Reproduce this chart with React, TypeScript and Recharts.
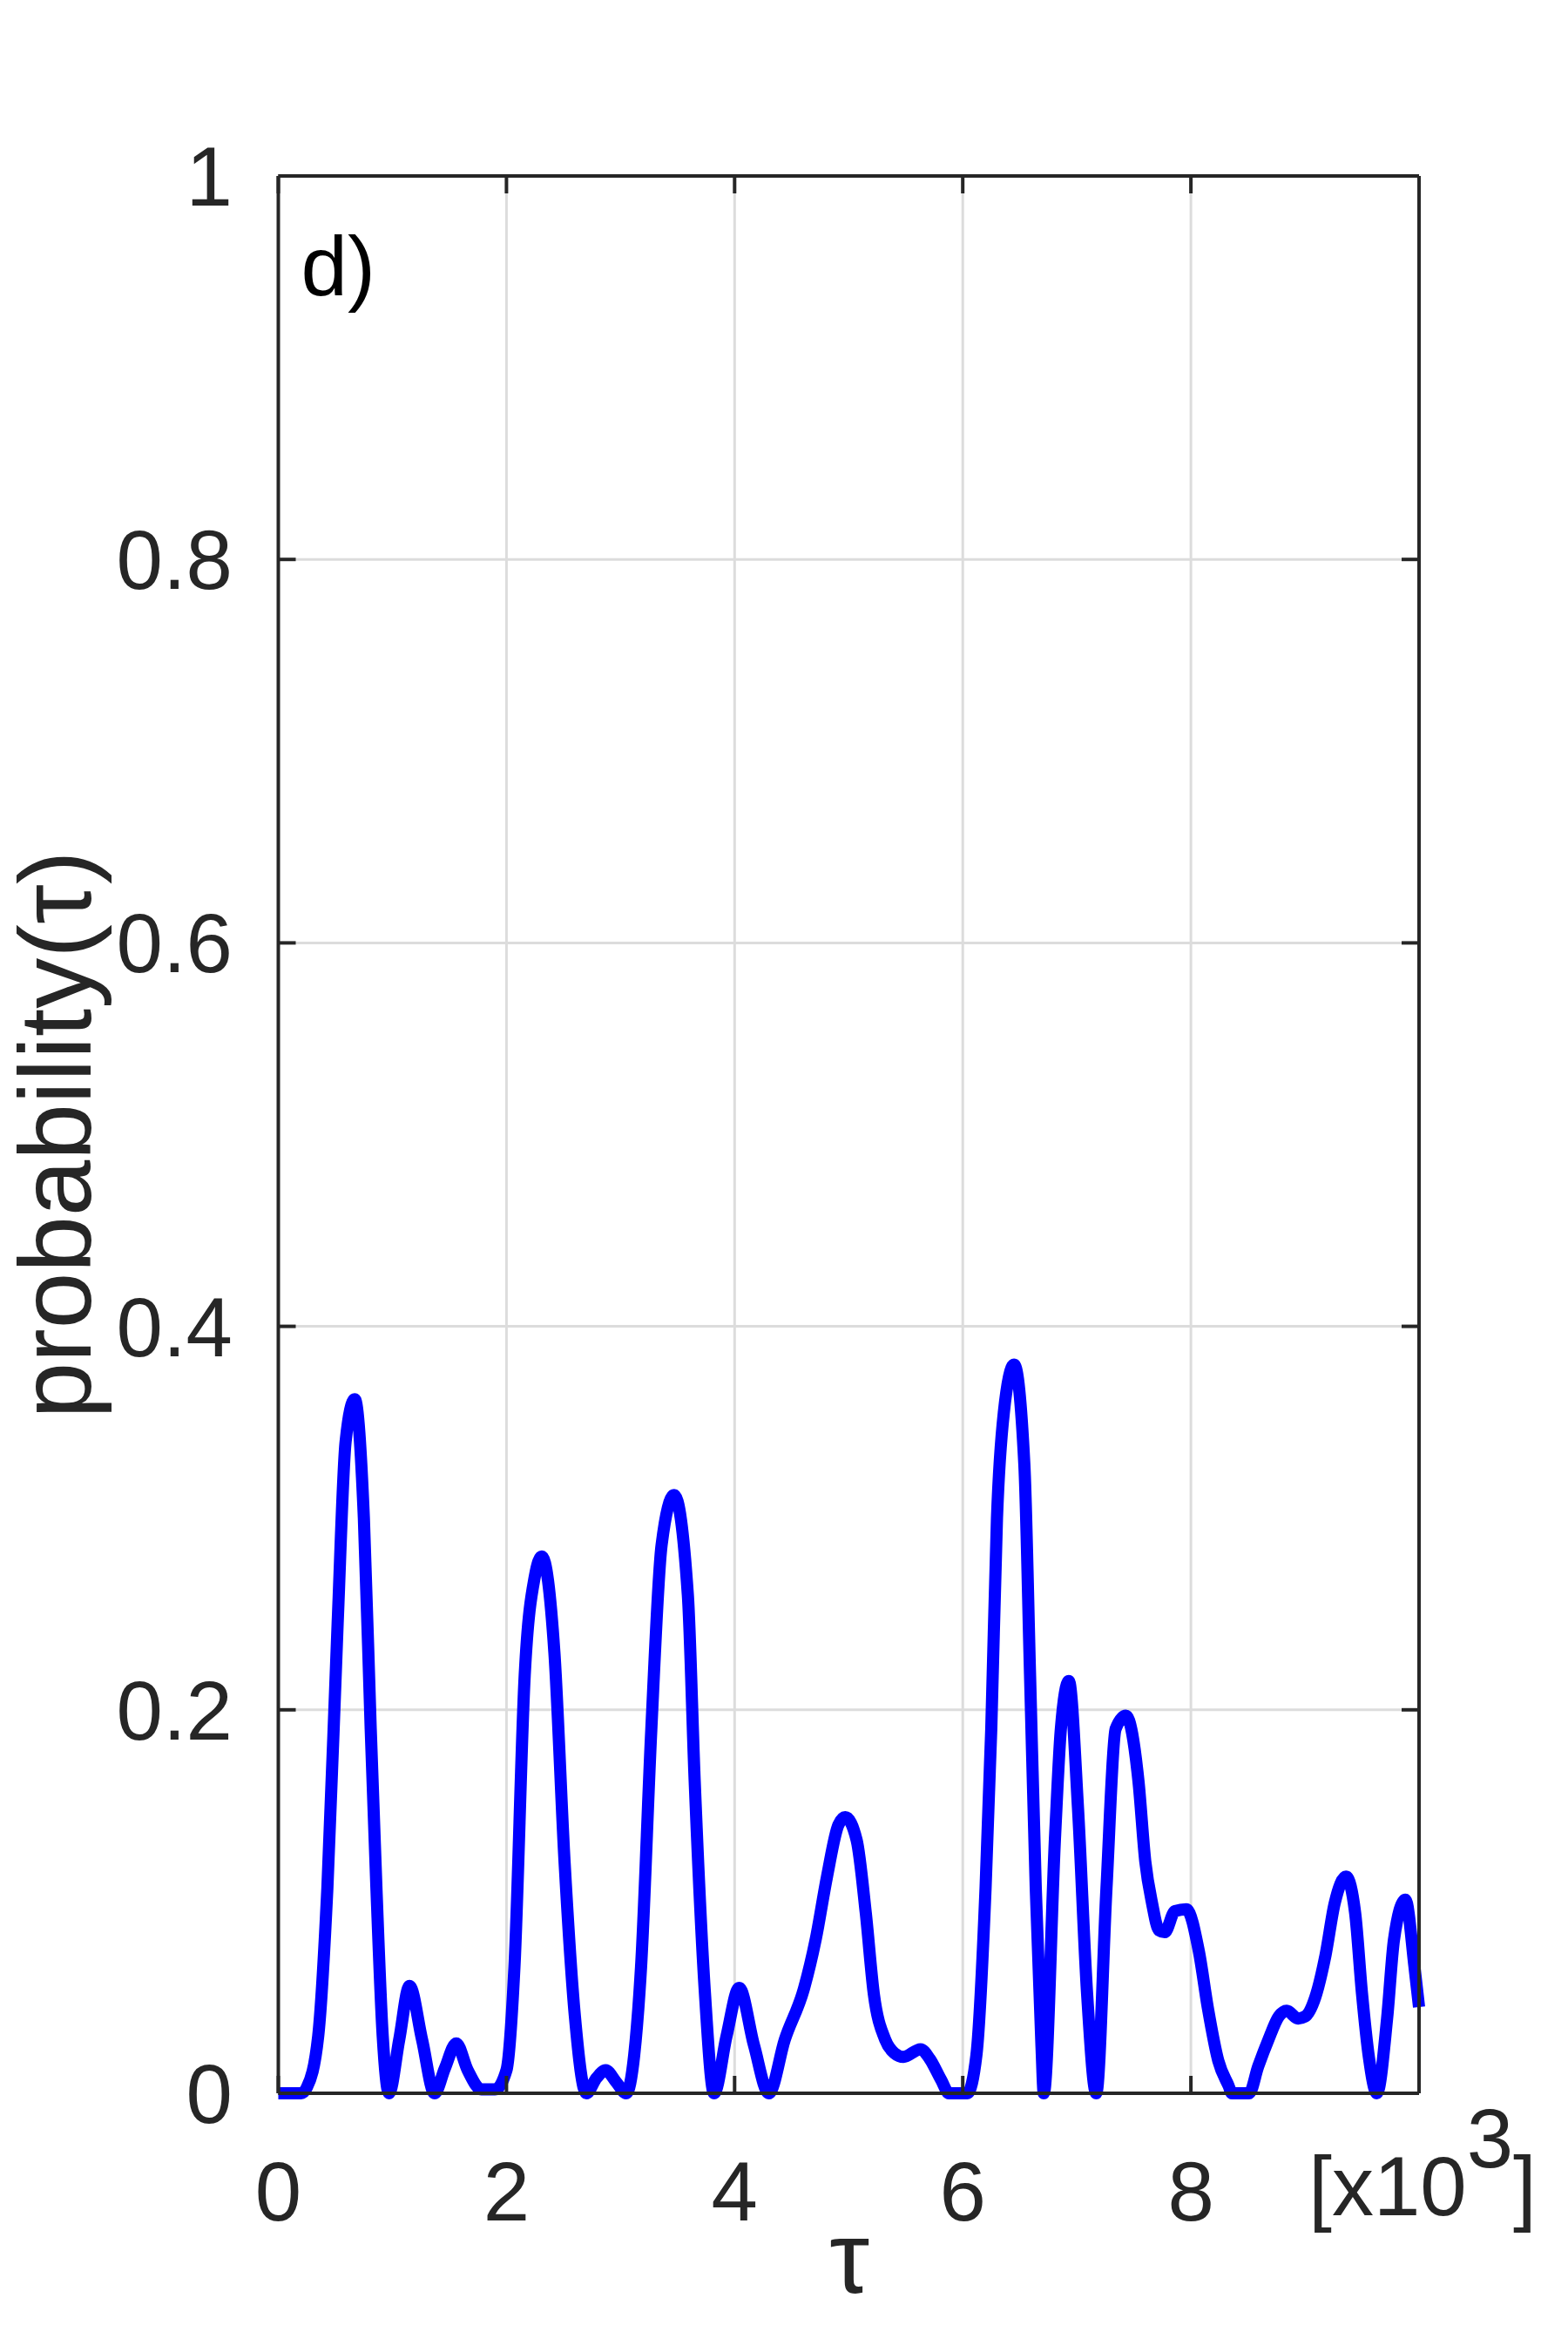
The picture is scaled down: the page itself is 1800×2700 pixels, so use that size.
import { LineChart, Line, XAxis, YAxis, CartesianGrid } from 'recharts';

// tau in units of 10^3, probability
const tau = [
  0, 0.2, 0.25, 0.35, 0.43, 0.52, 0.59, 0.67, 0.75, 0.81, 0.86, 0.915, 0.97,
  1.06, 1.15, 1.26, 1.37, 1.46, 1.56, 1.66, 1.78, 1.9,
  2.0, 2.07, 2.16, 2.25, 2.31, 2.42, 2.51, 2.6, 2.7, 2.79, 2.87, 2.96,
  3.05, 3.12, 3.18, 3.27, 3.36, 3.47, 3.59, 3.65, 3.74, 3.82, 3.93,
  4.04, 4.17, 4.3, 4.44, 4.61, 4.71, 4.81, 4.91, 4.97,
  5.07, 5.15, 5.22, 5.32, 5.4, 5.48, 5.63, 5.71, 5.81, 5.88,
  6.04, 6.12, 6.2, 6.25, 6.3, 6.36, 6.45, 6.54, 6.59, 6.64, 6.69, 6.71, 6.81, 6.86, 6.93,
  7.01, 7.09, 7.17, 7.26, 7.34, 7.43, 7.54, 7.6, 7.66, 7.72, 7.77, 7.86, 7.96,
  8.07, 8.15, 8.24, 8.33, 8.36, 8.51, 8.59, 8.68, 8.77, 8.84, 8.94,
  9.0, 9.09, 9.18, 9.26, 9.36, 9.44, 9.5, 9.56, 9.63, 9.72, 9.78, 9.88, 9.96, 10.0,
];
const prob = [
  0, 0, 0.003, 0.03, 0.107, 0.245, 0.34, 0.362, 0.3, 0.19, 0.107, 0.03, 0,
  0.028, 0.056, 0.028, 0, 0.013, 0.026, 0.012, 0.002, 0.002,
  0.012, 0.066, 0.218, 0.27, 0.28, 0.23, 0.12, 0.04, 0, 0.008, 0.012, 0.006,
  0, 0.02, 0.066, 0.19, 0.286, 0.312, 0.26, 0.163, 0.052, 0, 0.03,
  0.055, 0.025, 0, 0.028, 0.055, 0.08, 0.113, 0.14, 0.144,
  0.132, 0.094, 0.052, 0.028, 0.021, 0.019, 0.023, 0.018, 0.007, 0,
  0, 0.02, 0.107, 0.19, 0.3, 0.355, 0.38, 0.328, 0.218, 0.107, 0.025, 0, 0.135, 0.19, 0.215,
  0.149, 0.052, 0, 0.107, 0.19, 0.197, 0.163, 0.121, 0.099, 0.085, 0.084, 0.095, 0.096,
  0.074, 0.044, 0.017, 0.004, 0, 0, 0.014, 0.028, 0.04, 0.043, 0.039,
  0.04, 0.05, 0.072, 0.099, 0.113, 0.094, 0.052, 0.019, 0, 0.039, 0.08, 0.101, 0.066, 0.045,
];

const xTicks = [0, 2, 4, 6, 8, 10];
const yTicks = [0, 0.2, 0.4, 0.6, 0.8, 1];

const data = tau.map((t, i) => ({ tau: t, p: prob[i] }));

const INK = '#262626';
const FONT = '"Liberation Sans", Arial, Helvetica, sans-serif';
const TICK_FONT = 96;
const TITLE_FONT = 116;
const Y_GAP = 52.5; // label to axis
const TICK_LEN = 20;

// the last tick carries the x10^3 exponent instead of "10"
const XTick = ({ x, y, payload }: any) => {
  if (payload.value === 10) {
    return (
      <text x={x + 4} y={y + 62} textAnchor="middle" fill={INK} fontSize={TICK_FONT} fontFamily={FONT}>
        [x10<tspan dy={-55}>3</tspan>
        <tspan dy={55}>]</tspan>
      </text>
    );
  }
  return (
    <text x={x} y={y + 68} textAnchor="middle" fill={INK} fontSize={TICK_FONT} fontFamily={FONT}>
      {payload.value}
    </text>
  );
};

// y label plus the inward tick mark on the left edge
const YTick = ({ x, y, payload }: any) => (
  <g>
    <line x1={x + Y_GAP} x2={x + Y_GAP + TICK_LEN} y1={y} y2={y} stroke={INK} strokeWidth={4} />
    <text x={x} y={y} dy="0.355em" textAnchor="end" fill={INK} fontSize={TICK_FONT} fontFamily={FONT}>
      {payload.value}
    </text>
  </g>
);

// tick lines only, no label
const NoLabel = () => <g />;

const YTitle = ({ viewBox }: any) => {
  const x = viewBox.x + 104;
  const y = viewBox.y + viewBox.height / 2;
  return (
    <text x={x} y={y} transform={`rotate(-90, ${x}, ${y})`} textAnchor="middle" fill={INK} fontSize={TITLE_FONT} fontFamily={FONT}>
      probability(τ)
    </text>
  );
};

const XTitle = ({ viewBox }: any) => (
  <text x={viewBox.x + viewBox.width / 2 + 1} y={viewBox.y + 229} textAnchor="middle" fill={INK} fontSize={TITLE_FONT} fontFamily={FONT}>
    τ
  </text>
);

const PanelTag = ({ viewBox }: any) => (
  <text x={viewBox.x + 26} y={viewBox.y + 137} fill="#000" fontSize={TICK_FONT} fontFamily={FONT}>
    d)
  </text>
);

const frame = { stroke: INK, strokeWidth: 4 };

export default function App() {
  return (
    <div style={{ position: 'absolute', left: 0, top: 0, background: '#fff' }}>
      <LineChart width={1800} height={2700} data={data} margin={{ top: 202, right: 171, bottom: 0, left: 0 }}>
        <CartesianGrid stroke="#dcdcdc" strokeWidth={3} />
        <XAxis
          dataKey="tau"
          type="number"
          domain={[0, 10]}
          ticks={xTicks}
          interval={0}
          height={297}
          axisLine={false}
          tickLine={false}
          tickSize={0}
          tickMargin={78}
          tick={<XTick />}
          label={{ content: XTitle }}
        />
        <YAxis
          dataKey="p"
          type="number"
          domain={[0, 1]}
          ticks={yTicks}
          interval={0}
          width={319.5}
          axisLine={frame}
          tickLine={false}
          tickSize={0}
          tickMargin={Y_GAP}
          tick={<YTick />}
          label={{ content: YTitle }}
        />
        {/* inward ticks and the rest of the box, like the MATLAB axes */}
        <XAxis xAxisId="bin" dataKey="tau" orientation="bottom" mirror type="number" domain={[0, 10]} ticks={xTicks} interval={0} tick={<NoLabel />} tickSize={TICK_LEN} tickLine={frame} axisLine={frame} />
        <XAxis xAxisId="tin" dataKey="tau" orientation="top" mirror type="number" domain={[0, 10]} ticks={xTicks} interval={0} tick={<NoLabel />} tickSize={TICK_LEN} tickLine={frame} axisLine={frame} label={{ content: PanelTag }} />
        <YAxis yAxisId="rin" dataKey="p" orientation="right" mirror type="number" domain={[0, 1]} ticks={yTicks} interval={0} tick={<NoLabel />} tickSize={TICK_LEN} tickLine={frame} axisLine={frame} />
        <Line type="monotone" dataKey="p" stroke="#0000ff" strokeWidth={14} dot={false} isAnimationActive={false} />
      </LineChart>
    </div>
  );
}
